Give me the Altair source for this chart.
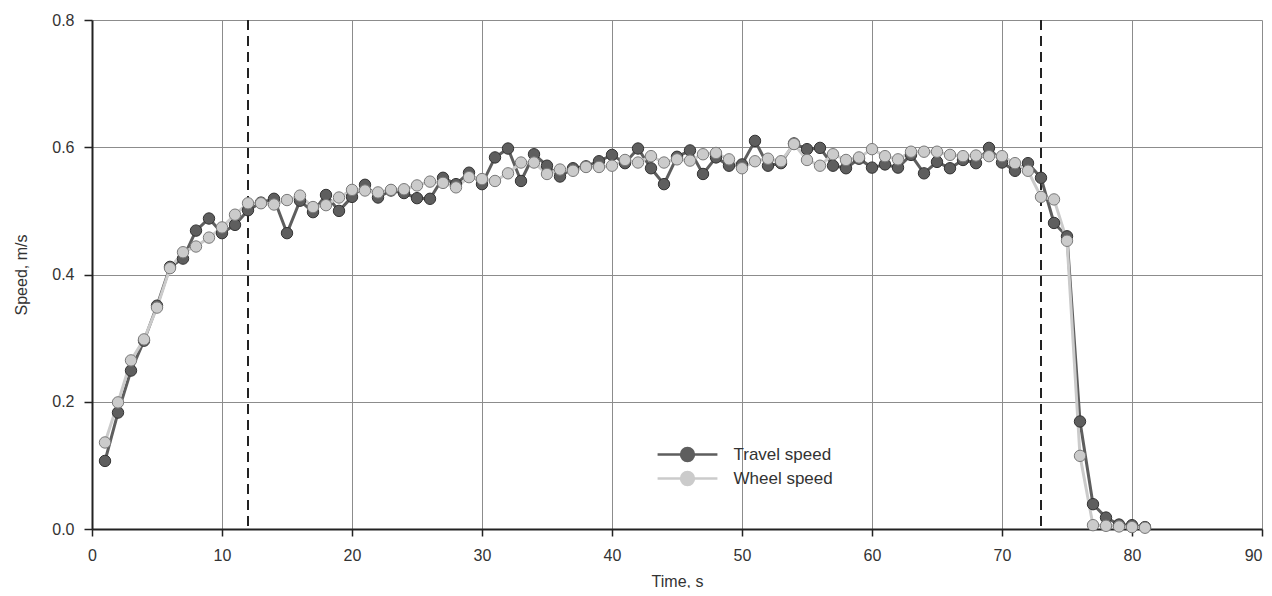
import altair as alt
import pandas as pd

# ---- data ----
times = list(range(1, 82))

travel_speed = [
    0.107, 0.183, 0.249, 0.296, 0.351, 0.412, 0.425, 0.469, 0.488, 0.465,
    0.478, 0.501, 0.513, 0.519, 0.465, 0.516, 0.498, 0.525, 0.500, 0.522,
    0.541, 0.521, 0.532, 0.528, 0.520, 0.519, 0.552, 0.542, 0.560, 0.542,
    0.584, 0.598, 0.547, 0.589, 0.571, 0.554, 0.567, 0.570, 0.578, 0.588,
    0.575, 0.598, 0.567, 0.542, 0.585, 0.595, 0.558, 0.584, 0.571, 0.573,
    0.610, 0.571, 0.575, 0.606, 0.597, 0.599, 0.571, 0.567, 0.582, 0.568,
    0.573, 0.568, 0.588, 0.559, 0.577, 0.567, 0.580, 0.575, 0.599, 0.576,
    0.563, 0.575, 0.552, 0.481, 0.460, 0.169, 0.039, 0.018, 0.007, 0.006,
    0.003,
]

wheel_speed = [
    0.136, 0.199, 0.265, 0.298, 0.348, 0.410, 0.435, 0.444, 0.458, 0.474,
    0.494, 0.512, 0.512, 0.510, 0.517, 0.524, 0.506, 0.509, 0.521, 0.533,
    0.532, 0.529, 0.533, 0.534, 0.540, 0.546, 0.544, 0.537, 0.553, 0.550,
    0.547, 0.559, 0.576, 0.576, 0.558, 0.565, 0.563, 0.569, 0.569, 0.571,
    0.580, 0.576, 0.586, 0.576, 0.581, 0.579, 0.589, 0.591, 0.581, 0.567,
    0.578, 0.582, 0.578, 0.605, 0.580, 0.571, 0.589, 0.580, 0.584, 0.597,
    0.586, 0.581, 0.593, 0.593, 0.593, 0.588, 0.586, 0.587, 0.586, 0.586,
    0.575, 0.563, 0.522, 0.518, 0.453, 0.115, 0.006, 0.005, 0.004, 0.003,
    0.002,
]

series_names = ["Travel speed", "Wheel speed"]
series_colors = ["#5e5e5e", "#cbcbcb"]
marker_strokes = ["#333333", "#7a7a7a"]

boundary_times = [12, 73]

x_ticks = [0, 10, 20, 30, 40, 50, 60, 70, 80, 90]
y_ticks = [0.0, 0.2, 0.4, 0.6, 0.8]

FONT = "Liberation Sans, Arial, Helvetica, sans-serif"

# ---- tables ----
rows = []
for name, vals in zip(series_names, [travel_speed, wheel_speed]):
    for t, v in zip(times, vals):
        rows.append({"time": t, "speed": v, "series": name})
df = pd.DataFrame(rows)
bounds_df = pd.DataFrame({"time": boundary_times})

# legend symbol: a short line with a circle in the middle
LEGEND_PATH = ("M-3.15,0H-0.68M0.68,0H3.15"
               "M0.68,0A0.68,0.68,0,1,1,-0.68,0A0.68,0.68,0,1,1,0.68,0Z")

legend = alt.Legend(
    title=None,
    orient="none",
    legendX=584.5,
    legendY=423.5,
    padding=0,
    rowPadding=0,
    symbolType=LEGEND_PATH,
    symbolSize=361,
    symbolStrokeWidth=2.5,
    symbolOpacity=1,
    labelOffset=35,
    labelFont=FONT,
    labelFontSize=17,
    labelColor="#333333",
)

x_enc = alt.X(
    "time:Q",
    scale=alt.Scale(domain=[0, 90], nice=False, zero=True),
    axis=alt.Axis(
        values=x_ticks,
        title="Time, s",
        titleY=57,
        titleBaseline="alphabetic",
        tickSize=7,
        labelPadding=11,
        labelAlign={"condition": {"test": "datum.value == 90", "value": "right"},
                    "value": "center"},
    ),
)
y_enc = alt.Y(
    "speed:Q",
    scale=alt.Scale(domain=[0, 0.8], nice=False),
    axis=alt.Axis(
        values=y_ticks,
        format=".1f",
        title="Speed, m/s",
        titleX=-66,
        titleY=254.5,
        titleBaseline="alphabetic",
        tickSize=8,
        labelPadding=10,
    ),
)
color_enc = alt.Color(
    "series:N",
    scale=alt.Scale(domain=series_names, range=series_colors),
    legend=legend,
)

base = alt.Chart(df)

lines = base.mark_line(strokeWidth=3).encode(
    x=x_enc, y=y_enc, color=color_enc
)

points = base.mark_point(filled=True, size=130, strokeWidth=1, opacity=1).encode(
    x=x_enc,
    y=y_enc,
    color=color_enc,
    stroke=alt.condition(
        alt.datum.series == series_names[0],
        alt.value(marker_strokes[0]),
        alt.value(marker_strokes[1]),
    ),
)

bounds = alt.Chart(bounds_df).mark_rule(
    color="#222222", strokeWidth=2, strokeDash=[10, 6]
).encode(x=alt.X("time:Q"))

chart = (
    alt.layer(bounds, lines, points)
    .properties(
        width=1170,
        height=509,
        autosize=alt.AutoSizeParams(type="none"),
        padding={"left": 84, "top": 12, "right": 2, "bottom": 59},
        background="white",
    )
    .configure_view(stroke=None)
    .configure_axis(
        domainColor="#222222",
        domainWidth=2,
        tickColor="#222222",
        tickWidth=1.5,
        gridColor="#8c8c8c",
        gridWidth=1,
        labelFont=FONT,
        labelFontSize=16,
        labelColor="#333333",
        titleFont=FONT,
        titleFontSize=16,
        titleFontWeight="normal",
        titleColor="#333333",
    )
)

chart.save("out.html", embed_options={"renderer": "svg", "actions": False})
